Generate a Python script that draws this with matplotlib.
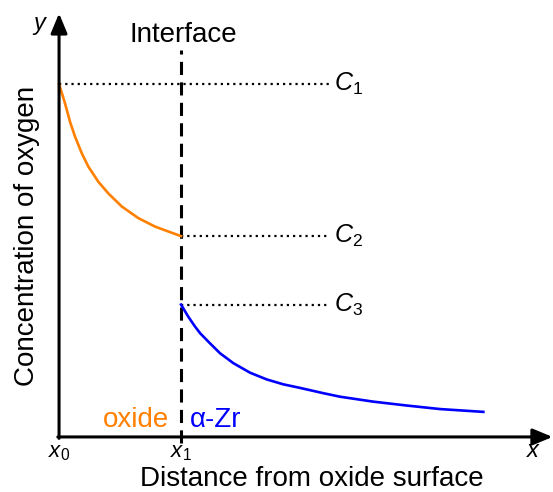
import matplotlib
matplotlib.use("Agg")
import matplotlib.pyplot as plt

plt.rcParams["font.family"] = ["Liberation Sans", "DejaVu Sans"]
plt.rcParams["mathtext.fontset"] = "custom"
plt.rcParams["mathtext.rm"] = "Liberation Sans"
plt.rcParams["mathtext.it"] = "Liberation Sans:italic"

# x: 0 = oxide surface (x0), 1 = interface (x1); y: C1 = 1
oxide_x = [0.0, 0.049, 0.090, 0.131, 0.186, 0.240, 0.322, 0.404, 0.514,
           0.650, 0.787, 0.896, 1.0]
oxide_y = [1.0, 0.945, 0.893, 0.851, 0.804, 0.766, 0.723, 0.690, 0.653,
           0.620, 0.596, 0.582, 0.569]
zr_x = [1.0, 1.057, 1.112, 1.156, 1.238, 1.320, 1.429, 1.566, 1.702, 1.839,
        1.975, 2.166, 2.303, 2.576, 2.850, 3.123, 3.478]
zr_y = [0.375, 0.342, 0.314, 0.294, 0.265, 0.237, 0.209, 0.182, 0.163, 0.149,
        0.139, 0.124, 0.114, 0.100, 0.089, 0.079, 0.071]
levels = [1.0, 0.569, 0.375]
level_labels = [r"$\mathit{C}_{\mathrm{1}}$", r"$\mathit{C}_{\mathrm{2}}$", r"$\mathit{C}_{\mathrm{3}}$"]
x_interface = 1.0
x_ticks = [0.0, 1.0]
x_tick_labels = [r"$\mathit{x}_{\mathrm{0}}$", r"$\mathit{x}_{\mathrm{1}}$"]

fig = plt.figure(figsize=(5.53, 4.92), dpi=100)
ax = fig.add_axes([0, 0, 1, 1])
ax.set_xlim(-0.484, 4.049)
ax.set_ylim(-0.156, 1.238)
ax.axis("off")

# axes with arrow heads
arrow = dict(arrowstyle="-|>,head_length=0.6,head_width=0.25", lw=2.2,
             color="black", mutation_scale=20, shrinkA=0, shrinkB=0)
ax.annotate("", xy=(4.045, 0), xytext=(-0.01, 0), arrowprops=arrow)
ax.annotate("", xy=(0, 1.2), xytext=(0, -0.004), arrowprops=arrow)

# interface
ax.plot([x_interface, x_interface], [-0.018, 1.095], color="black", lw=2.2,
        linestyle=(0, (4.3, 2.4)))
ax.text(x_interface + 0.015, 1.14, "Interface", ha="center", va="center", fontsize=20)

# dotted levels
dot_end = 2.22
ax.plot([0, dot_end], [levels[0]] * 2, color="black", lw=1.6, linestyle=(0, (1, 1.8)))
for lv in levels[1:]:
    ax.plot([x_interface, dot_end], [lv] * 2, color="black", lw=1.6, linestyle=(0, (1, 1.8)))
for lv, lab in zip(levels, level_labels):
    ax.text(dot_end + 0.03, lv, lab, ha="left", va="center", fontsize=18)

# concentration profiles
ax.plot(oxide_x, oxide_y, color="#FF8000", lw=1.9, solid_joinstyle="round")
ax.plot(zr_x, zr_y, color="#0000FF", lw=1.9, solid_joinstyle="round")

ax.text(0.905, 0.012, "oxide", color="#FF8000", ha="right", va="bottom", fontsize=20)
ax.text(1.07, 0.012, "α-Zr", color="#0000FF", ha="left", va="bottom", fontsize=20)

# tick labels and axis labels
for xt, lab in zip(x_ticks, x_tick_labels):
    ax.text(xt, -0.045, lab, ha="center", va="center", fontsize=16)
ax.text(3.89, -0.04, r"$\mathit{x}$", ha="center", va="center", fontsize=17)
ax.text(-0.155, 1.165, r"$\mathit{y}$", ha="center", va="center", fontsize=17)
ax.text(2.07, -0.14, "Distance from oxide surface", ha="center", va="baseline", fontsize=20)
ax.text(-0.26, 0.57, "Concentration of oxygen", ha="center", va="center",
        rotation=90, fontsize=20)

fig.savefig("out.png", dpi=100)
